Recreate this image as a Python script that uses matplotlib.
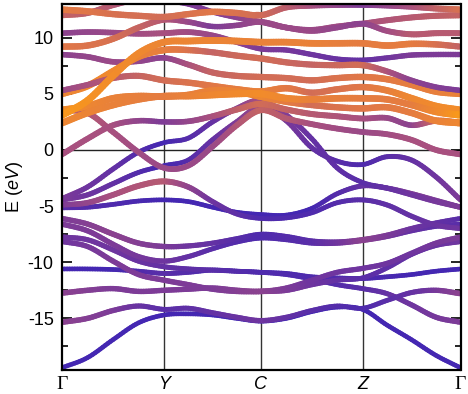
import numpy as np
import matplotlib
matplotlib.use("Agg")
import matplotlib.pyplot as plt
from matplotlib.collections import LineCollection
from matplotlib.colors import LinearSegmentedColormap

plt.rcParams['font.family'] = ['Liberation Sans', 'DejaVu Sans']
plt.rcParams['mathtext.fontset'] = 'custom'
plt.rcParams['mathtext.it'] = 'Liberation Sans:italic'
plt.rcParams['mathtext.rm'] = 'Liberation Sans'
plt.rcParams['axes.unicode_minus'] = False

# ---- k-path ----
kpoint_labels = ['Γ', 'Y', 'C', 'Z', 'Γ']
kpoint_dist = [0.0, 1.0, 1.95, 2.945, 3.905]
n_sub = 4  # samples per segment (read every quarter segment)

# ---- band energies (eV), read at quarter-segment points along Γ-Y-C-Z-Γ ----
band_A  = [12.5, 12.35, 12.1, 11.95, 11.85, 12.1, 12.3, 12.2, 12.0, 12.7, 12.85, 12.9, 12.9, 12.85, 12.75, 12.6, 12.5]
band_B  = [12.0, 12.2, 12.9, 13.4, 13.3, 13.0, 12.3, 11.8, 11.4, 10.9, 10.7, 11.0, 11.25, 11.55, 11.8, 11.95, 12.0]
band_D  = [9.2, 9.3, 9.9, 10.9, 11.6, 11.4, 11.0, 11.1, 11.4, 10.9, 10.6, 10.9, 11.25, 10.6, 10.3, 10.4, 10.4]
band_Cc = [10.4, 10.5, 10.45, 10.35, 10.4, 10.5, 10.2, 9.6, 9.0, 8.9, 8.5, 8.1, 8.0, 8.2, 8.45, 8.5, 8.5]
band_H  = [3.1, 4.4, 6.6, 8.6, 9.6, 9.7, 9.75, 9.7, 9.6, 9.6, 9.5, 9.5, 9.5, 9.3, 9.45, 9.4, 9.2]
band_G  = [5.0, 5.7, 7.0, 8.3, 8.9, 8.9, 8.7, 8.4, 8.15, 7.8, 7.6, 7.55, 7.55, 7.0, 6.2, 5.6, 5.3]
band_E  = [8.5, 8.3, 7.85, 7.9, 8.2, 7.6, 6.9, 6.6, 6.5, 6.4, 6.2, 6.4, 6.5, 6.3, 5.8, 5.2, 5.0]
band_F  = [5.3, 5.8, 6.4, 6.6, 6.2, 6.0, 5.7, 5.4, 5.2, 5.5, 5.1, 5.4, 5.6, 5.3, 4.6, 3.9, 3.55]
band_I  = [2.4, 3.3, 4.0, 4.5, 4.8, 4.8, 4.9, 5.0, 5.0, 4.6, 4.5, 4.6, 4.6, 4.5, 4.0, 3.4, 3.1]
band_J  = [3.55, 3.9, 4.6, 4.8, 4.75, 4.9, 5.3, 5.2, 4.75, 4.3, 4.0, 3.8, 3.7, 3.8, 3.3, 2.6, 2.4]
band_K  = [-0.4, 1.0, 2.2, 2.6, 2.5, 2.55, 3.0, 3.6, 4.1, 3.6, 3.2, 3.0, 2.8, 2.85, 2.2, 2.6, 2.4]
band_R  = [3.55, 3.3, 1.6, -0.2, -1.6, -1.4, 0.3, 2.2, 3.55, 2.8, 2.3, 1.9, 1.6, 1.4, 0.9, 0.0, -0.4]
band_V1 = [-4.35, -3.3, -1.7, -0.2, 0.65, 1.05, 2.5, 3.7, 4.4, 3.1, 1.0, -1.6, -2.9, -3.4, -4.0, -4.6, -5.1]
band_V2 = [-4.45, -4.0, -3.0, -2.0, -1.4, -0.9, 0.9, 2.5, 3.85, 2.6, 0.2, -1.0, -1.3, -0.6, -0.9, -2.4, -4.45]
band_B4 = [-5.15, -5.1, -4.85, -4.55, -4.45, -4.6, -5.1, -5.55, -5.75, -5.8, -5.2, -3.9, -3.2, -3.4, -3.9, -4.5, -5.1]
band_P1 = [-4.9, -4.7, -4.0, -3.2, -2.8, -3.3, -4.6, -5.7, -6.1, -6.05, -5.6, -4.7, -4.45, -4.9, -5.9, -6.7, -7.0]
band_b6 = [-6.1, -6.6, -7.5, -8.3, -8.6, -8.55, -8.3, -7.9, -7.5, -7.7, -8.1, -8.2, -8.0, -7.6, -7.0, -6.5, -6.1]
band_b7 = [-6.6, -7.2, -8.4, -9.5, -9.9, -9.5, -8.8, -8.2, -7.85, -8.0, -8.3, -8.3, -8.05, -7.7, -7.2, -6.8, -6.6]
band_b5 = [-7.75, -8.0, -8.9, -9.9, -10.4, -10.6, -10.7, -10.8, -10.9, -11.1, -11.5, -12.0, -12.35, -12.8, -13.8, -14.9, -15.35]
band_b8 = [-8.15, -8.6, -9.9, -11.1, -11.6, -12.0, -12.4, -12.6, -12.6, -12.5, -12.0, -11.6, -11.4, -10.5, -9.3, -8.5, -8.15]
band_b4 = [-10.6, -10.6, -10.65, -10.8, -11.0, -10.9, -10.7, -10.8, -10.9, -11.0, -11.3, -11.4, -11.45, -11.3, -11.1, -10.8, -10.6]
band_b3 = [-12.75, -12.5, -12.35, -12.6, -12.5, -12.4, -12.3, -12.5, -12.6, -12.3, -11.6, -10.9, -10.55, -10.1, -9.2, -8.3, -7.75]
band_b2 = [-15.35, -15.0, -14.3, -13.9, -14.2, -14.1, -14.5, -14.9, -15.2, -14.9, -14.3, -13.9, -14.1, -13.4, -12.7, -12.5, -12.8]
band_b1 = [-19.4, -18.5, -16.9, -15.4, -14.7, -14.6, -14.7, -15.0, -15.25, -15.0, -14.4, -14.0, -14.2, -15.6, -16.9, -18.3, -19.4]

# ---- projection weights (0 = blue, 1 = orange), read at half-segment points ----
w_A  = [0.68, 0.62, 0.6, 0.65, 0.6, 0.45, 0.3, 0.45, 0.62]
w_B  = [0.55, 0.5, 0.3, 0.3, 0.4, 0.4, 0.45, 0.5, 0.55]
w_D  = [0.65, 0.62, 0.5, 0.3, 0.4, 0.4, 0.35, 0.5, 0.5]
w_Cc = [0.35, 0.4, 0.45, 0.4, 0.3, 0.25, 0.2, 0.3, 0.3]
w_H  = [0.92, 0.85, 0.78, 0.78, 0.75, 0.75, 0.7, 0.7, 0.55]
w_G  = [0.78, 0.82, 0.72, 0.55, 0.6, 0.55, 0.6, 0.35, 0.3]
w_E  = [0.35, 0.4, 0.35, 0.55, 0.6, 0.6, 0.65, 0.7, 0.75]
w_F  = [0.4, 0.5, 0.6, 0.65, 0.75, 0.6, 0.65, 0.8, 0.85]
w_I  = [0.8, 0.75, 0.7, 0.8, 0.85, 0.75, 0.7, 0.7, 0.92]
w_J  = [0.85, 0.75, 0.7, 0.75, 0.8, 0.6, 0.65, 0.7, 0.8]
w_K  = [0.45, 0.45, 0.3, 0.45, 0.6, 0.5, 0.45, 0.35, 0.8]
w_R  = [0.55, 0.45, 0.4, 0.4, 0.55, 0.45, 0.4, 0.45, 0.45]
w_V1 = [0.3, 0.2, 0.05, 0.2, 0.45, 0.2, 0.15, 0.25, 0.3]
w_V2 = [0.3, 0.2, 0.05, 0.2, 0.4, 0.2, 0.1, 0.2, 0.3]
w_B4 = [0.15, 0.1, 0.05, 0.05, 0.05, 0.05, 0.2, 0.3, 0.3]
w_P1 = [0.3, 0.45, 0.5, 0.25, 0.1, 0.1, 0.15, 0.2, 0.25]
w_b6 = [0.3, 0.35, 0.3, 0.2, 0.1, 0.15, 0.35, 0.25, 0.15]
w_b7 = [0.3, 0.3, 0.25, 0.15, 0.1, 0.15, 0.35, 0.2, 0.15]
w_b5 = [0.25, 0.25, 0.2, 0.15, 0.1, 0.1, 0.15, 0.25, 0.3]
w_b8 = [0.25, 0.3, 0.3, 0.3, 0.35, 0.25, 0.15, 0.2, 0.25]
w_b4 = [0.05, 0.05, 0.15, 0.1, 0.05, 0.1, 0.1, 0.05, 0.05]
w_b3 = [0.35, 0.3, 0.3, 0.3, 0.35, 0.25, 0.25, 0.25, 0.3]
w_b2 = [0.35, 0.3, 0.15, 0.2, 0.25, 0.15, 0.1, 0.2, 0.35]
w_b1 = [0.05, 0.05, 0.05, 0.05, 0.05, 0.05, 0.05, 0.05, 0.05]

bands = [
    (band_A, w_A), (band_B, w_B), (band_D, w_D), (band_Cc, w_Cc), (band_H, w_H),
    (band_G, w_G), (band_E, w_E), (band_F, w_F), (band_I, w_I), (band_J, w_J),
    (band_K, w_K), (band_R, w_R), (band_V1, w_V1), (band_V2, w_V2), (band_B4, w_B4),
    (band_P1, w_P1), (band_b6, w_b6), (band_b7, w_b7), (band_b5, w_b5), (band_b8, w_b8),
    (band_b4, w_b4), (band_b3, w_b3), (band_b2, w_b2), (band_b1, w_b1),
]

cmap = LinearSegmentedColormap.from_list(
    'proj', [(0.0, '#3a24b6'), (0.25, '#6f359f'), (0.45, '#a8507f'),
             (0.65, '#e07748'), (0.85, '#f28c2a'), (1.0, '#ffa60a')])

# k coordinates of the read points
kx = []
for i in range(len(kpoint_dist) - 1):
    seg = np.linspace(kpoint_dist[i], kpoint_dist[i + 1], n_sub + 1)
    kx.extend(seg if i == 0 else seg[1:])
kx = np.array(kx)
kw = np.array([kpoint_dist[0], (kpoint_dist[0]+kpoint_dist[1])/2, kpoint_dist[1],
               (kpoint_dist[1]+kpoint_dist[2])/2, kpoint_dist[2],
               (kpoint_dist[2]+kpoint_dist[3])/2, kpoint_dist[3],
               (kpoint_dist[3]+kpoint_dist[4])/2, kpoint_dist[4]])


def smooth_path(x, y, steps=10):
    """Catmull-Rom rendering of a polyline through the read points."""
    x = np.asarray(x, float)
    y = np.asarray(y, float)
    px = np.concatenate([[2*x[0]-x[1]], x, [2*x[-1]-x[-2]]])
    py = np.concatenate([[2*y[0]-y[1]], y, [2*y[-1]-y[-2]]])
    xs, ys = [], []
    t = np.linspace(0, 1, steps, endpoint=False)
    for i in range(1, len(px) - 2):
        p0, p1, p2, p3 = py[i-1], py[i], py[i+1], py[i+2]
        q0, q1, q2, q3 = px[i-1], px[i], px[i+1], px[i+2]
        f = lambda a0, a1, a2, a3: 0.5 * ((2*a1) + (-a0 + a2)*t +
                                          (2*a0 - 5*a1 + 4*a2 - a3)*t**2 +
                                          (-a0 + 3*a1 - 3*a2 + a3)*t**3)
        xs.append(f(q0, q1, q2, q3))
        ys.append(f(p0, p1, p2, p3))
    xs.append([x[-1]])
    ys.append([y[-1]])
    return np.concatenate(xs), np.concatenate(ys)


fig = plt.figure(figsize=(4.68, 3.94), dpi=100)
ax = fig.add_axes([62/468, 24/394, 398.5/468, 366/394])

order = sorted(range(len(bands)), key=lambda i: np.mean(bands[i][1]))
for z, i in enumerate(order):
    e, w = bands[i]
    sx, sy = smooth_path(kx, e)
    wk = np.interp(sx, kw, w)
    pts = np.column_stack([sx, sy]).reshape(-1, 1, 2)
    segs = np.concatenate([pts[:-1], pts[1:]], axis=1)
    wm = 0.5 * (wk[:-1] + wk[1:])
    lc = LineCollection(segs, colors=cmap(wm), linewidths=3.2 + 2.2 * wm,
                        capstyle='round', joinstyle='round', zorder=2 + z * 0.01)
    ax.add_collection(lc)

for xv in kpoint_dist[1:-1]:
    ax.axvline(xv, color='#333333', lw=1.0, zorder=1)
ax.axhline(0, color='#222222', lw=1.0, zorder=1)

ax.set_xlim(kpoint_dist[0], kpoint_dist[-1])
ax.set_ylim(-19.6, 13.0)
ax.set_yticks([-15, -10, -5, 0, 5, 10])
ax.set_yticks(np.arange(-17.5, 13, 5), minor=True)
ax.tick_params(axis='y', which='both', direction='in', left=True, right=True,
               labelsize=13, pad=6)
ax.tick_params(axis='y', which='major', length=7, width=1.2)
ax.tick_params(axis='y', which='minor', length=4, width=1.2)
ax.set_xticks(kpoint_dist)
ax.set_xticklabels(kpoint_labels)
ax.tick_params(axis='x', length=0, labelsize=13, pad=4)
for lab, txt in zip(ax.get_xticklabels(), kpoint_labels):
    if txt == 'Γ':
        lab.set_family(['Liberation Serif', 'DejaVu Serif'])
        lab.set_fontsize(14)
    else:
        lab.set_style('italic')
for s in ax.spines.values():
    s.set_linewidth(1.6)
ax.set_ylabel(r'E ($\mathit{eV}$)', fontsize=13, labelpad=2)

fig.savefig('out.png', dpi=100)
